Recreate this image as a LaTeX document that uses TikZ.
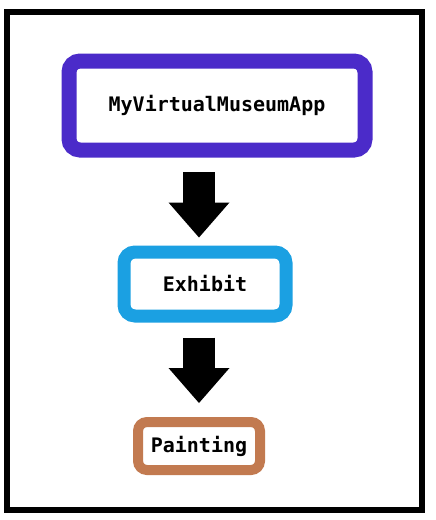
\documentclass[tikz,border=0pt]{standalone}
\usepackage{fontspec}
\setmonofont{DejaVu Sans Mono}
\usetikzlibrary{arrows.meta}
\definecolor{appviolet}{HTML}{4B2BC9}
\definecolor{exhibitblue}{HTML}{1BA0E2}
\definecolor{paintbrown}{HTML}{C27A50}
\begin{document}
\begin{tikzpicture}[x=1pt, y=-1pt,
  every node/.style={font=\fontsize{20}{20}\selectfont\ttfamily\bfseries},
  classbox/.style={draw, fill=white, rounded corners=11pt, inner sep=0pt},
  blockarrow/.style={line width=32pt,
    -{Triangle[length=35pt, width=61pt, line width=0pt]}}]
%
% ---- Frame ----
\useasboundingbox (0,0) rectangle (436,520);
\draw[line width=6pt] (7,12) rectangle (422,510);
%
% ---- Classes ----
\node[classbox, draw=appviolet, line width=15pt, minimum width=296pt,
  minimum height=89pt] (app) at (217,105.5) {MyVirtualMuseumApp};
\node[classbox, draw=exhibitblue, line width=13pt, minimum width=162pt,
  minimum height=64pt] (exhibit) at (205,284) {Exhibit};
\node[classbox, draw=paintbrown, line width=10pt, rounded corners=9pt,
  minimum width=122pt, minimum height=48pt] (painting) at (199,446) {Painting};
%
% ---- Containment ----
\draw[blockarrow, shorten <=14.5pt, shorten >=8pt]
  (app.south -| painting) -- (exhibit.north -| painting);
\draw[blockarrow, shorten <=15pt, shorten >=14pt]
  (exhibit.south -| painting) -- (painting.north);
\end{tikzpicture}
\end{document}
